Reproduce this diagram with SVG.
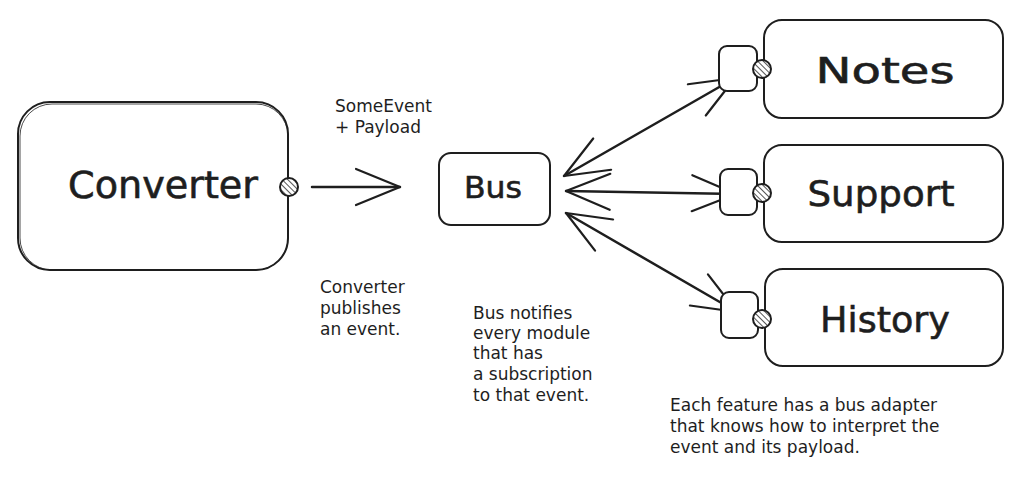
<svg xmlns="http://www.w3.org/2000/svg" width="1024" height="479" viewBox="0 0 1024 479">
<style>
.box{fill:#fff;stroke:#1e1e1e;stroke-width:2;}
.box2{fill:none;stroke:#1e1e1e;stroke-width:1;opacity:.8}
.big{font-family:"DejaVu Sans",sans-serif;fill:#1e1e1e;text-anchor:middle;stroke:#1e1e1e;stroke-width:0.6;}
.note{font-family:"DejaVu Sans",sans-serif;font-size:17px;fill:#1e1e1e;}
.conn{fill:none;stroke:#1e1e1e;stroke-width:2.5;stroke-linecap:round;}
.port{fill:url(#hatch);stroke:#1e1e1e;stroke-width:2;}
</style>
<defs>
<pattern id="hatch" width="4" height="4" patternUnits="userSpaceOnUse" patternTransform="rotate(-45)">
<rect width="4" height="4" fill="#fff"/>
<line x1="0" y1="0" x2="0" y2="4" stroke="#555" stroke-width="2"/>
</pattern>
<marker id="head" markerUnits="userSpaceOnUse" viewBox="-48 -24 52 48" refX="0" refY="0" markerWidth="52" markerHeight="48" orient="auto-start-reverse" overflow="visible">
<path d="M-44,-18 L0,0 L-44,18" fill="none" stroke="#1e1e1e" stroke-width="2.2" stroke-linecap="round" stroke-linejoin="round"/>
</marker>
</defs>
<rect width="1024" height="479" fill="#fff"/>

<g id="connectors">
<line class="conn" x1="312" y1="187" x2="400" y2="187" marker-end="url(#head)"/>
<line class="conn" x1="564" y1="176" x2="735" y2="78" marker-start="url(#head)" marker-end="url(#head)"/>
<line class="conn" x1="566" y1="191" x2="736" y2="194" marker-start="url(#head)" marker-end="url(#head)"/>
<line class="conn" x1="566" y1="213" x2="737" y2="312" marker-start="url(#head)" marker-end="url(#head)"/>
</g>

<g id="converter">
<rect class="box" x="18" y="102" width="270" height="168" rx="32"/>
<rect class="box2" x="20" y="104" width="268" height="166" rx="32"/>
<text class="big" x="163" y="198" font-size="37" textLength="190" lengthAdjust="spacingAndGlyphs">Converter</text>
<circle class="port" cx="289" cy="187" r="9"/>
</g>

<g id="bus">
<rect class="box" x="439" y="153" width="111" height="72" rx="12"/>
<text class="big" x="493" y="198" font-size="30" textLength="58" lengthAdjust="spacingAndGlyphs">Bus</text>
</g>

<g id="notes">
<rect class="box" x="764" y="20" width="239" height="98" rx="18"/>
<rect class="box" x="719" y="46" width="38" height="45" rx="8"/>
<text class="big" x="885" y="83" font-size="36" textLength="139" lengthAdjust="spacingAndGlyphs">Notes</text>
<circle class="port" cx="762" cy="69" r="9"/>
</g>

<g id="support">
<rect class="box" x="764" y="145" width="239" height="97" rx="18"/>
<rect class="box" x="720" y="169" width="37" height="46" rx="8"/>
<text class="big" x="881" y="206" font-size="36" textLength="147" lengthAdjust="spacingAndGlyphs">Support</text>
<circle class="port" cx="762" cy="193" r="9"/>
</g>

<g id="history">
<rect class="box" x="765" y="269" width="238" height="97" rx="18"/>
<rect class="box" x="721" y="292" width="37" height="46" rx="8"/>
<text class="big" x="885" y="332" font-size="36" textLength="130" lengthAdjust="spacingAndGlyphs">History</text>
<circle class="port" cx="762" cy="319" r="9"/>
</g>

<g id="labels">
<text class="note" x="335" y="112">SomeEvent</text>
<text class="note" x="335" y="133">+ Payload</text>
<text class="note" x="320" y="293">Converter</text>
<text class="note" x="320" y="314">publishes</text>
<text class="note" x="320" y="335">an event.</text>
<text class="note" x="473" y="319">Bus notifies</text>
<text class="note" x="473" y="339">every module</text>
<text class="note" x="473" y="359">that has</text>
<text class="note" x="473" y="380">a subscription</text>
<text class="note" x="473" y="401">to that event.</text>
<text class="note" x="670" y="411" font-size="18">Each feature has a bus adapter</text>
<text class="note" x="670" y="432" font-size="18">that knows how to interpret the</text>
<text class="note" x="670" y="453" font-size="18">event and its payload.</text>
</g>
</svg>
